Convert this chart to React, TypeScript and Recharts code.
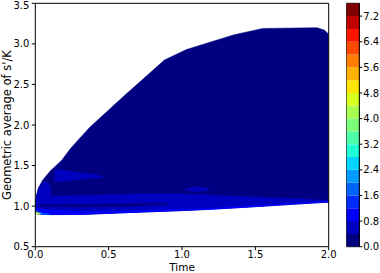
import type { JSX } from "react";
import {
  ComposedChart,
  BarChart,
  Area,
  Bar,
  XAxis,
  YAxis,
  ReferenceLine,
  ReferenceArea,
} from "recharts";

type Band = { t: number; v: [number, number] };

// contour level value range shown on the colour bar
const levelStep = 0.4;
const levelCount = 19;
const colorbarTicks = [0, 0.8, 1.6, 2.4, 3.2, 4.0, 4.8, 5.6, 6.4, 7.2];
const timeTicks = [0, 0.5, 1.0, 1.5, 2.0];
const ratioTicks = [0.5, 1.0, 1.5, 2.0, 2.5, 3.0, 3.5];

// outer envelope of the filled contours (level 0.0 - 0.4)
const envelope: Band[] = [
  { t: 0, v: [0.93, 1.06] },
  { t: 0.01, v: [0.905, 1.15] },
  { t: 0.02, v: [0.9, 1.22] },
  { t: 0.05, v: [0.897, 1.32] },
  { t: 0.1, v: [0.895, 1.43] },
  { t: 0.18, v: [0.895, 1.565] },
  { t: 0.24, v: [0.896, 1.71] },
  { t: 0.37, v: [0.9, 1.97] },
  { t: 0.6, v: [0.918, 2.35] },
  { t: 0.88, v: [0.937, 2.8] },
  { t: 1.03, v: [0.947, 2.93] },
  { t: 1.35, v: [0.978, 3.11] },
  { t: 1.55, v: [1.0, 3.19] },
  { t: 1.92, v: [1.042, 3.2] },
  { t: 1.97, v: [1.046, 3.17] },
  { t: 2.0, v: [1.05, 3.12] },
];

// level 0.4 - 0.8 near the lower edge
const lowerBand: Band[] = [
  { t: 0, v: [0.93, 1.06] },
  { t: 0.02, v: [0.9, 1.1] },
  { t: 0.05, v: [0.897, 1.12] },
  { t: 0.3, v: [0.898, 1.13] },
  { t: 0.7, v: [0.925, 1.15] },
  { t: 1.0, v: [0.945, 1.15] },
  { t: 1.4, v: [0.982, 1.12] },
  { t: 1.8, v: [1.028, 1.09] },
  { t: 2.0, v: [1.05, 1.07] },
];

// thin low-value stripe inside the lower band
const darkStripe: Band[] = [
  { t: 0.01, v: [0.995, 1.015] },
  { t: 0.3, v: [0.99, 1.02] },
  { t: 0.6, v: [0.995, 1.03] },
  { t: 0.9, v: [1.02, 1.04] },
];

// level 0.4 - 0.8 along the left edge
const leftBand: Band[] = [
  { t: 0, v: [1.0, 1.06] },
  { t: 0.01, v: [1.0, 1.14] },
  { t: 0.03, v: [1.02, 1.24] },
  { t: 0.06, v: [1.05, 1.3] },
  { t: 0.09, v: [1.1, 1.28] },
  { t: 0.11, v: [1.17, 1.2] },
];

// level 0.4 - 0.8 patch
const upperPatch: Band[] = [
  { t: 0.13, v: [1.3, 1.45] },
  { t: 0.2, v: [1.31, 1.44] },
  { t: 0.3, v: [1.33, 1.41] },
  { t: 0.4, v: [1.345, 1.39] },
  { t: 0.46, v: [1.36, 1.37] },
];

const midPatch: Band[] = [
  { t: 1.02, v: [1.2, 1.21] },
  { t: 1.1, v: [1.18, 1.24] },
  { t: 1.18, v: [1.2, 1.22] },
];

// level 0.8 - 1.2 rim
const edgeBand: Band[] = [
  { t: 0, v: [0.93, 0.99] },
  { t: 0.05, v: [0.897, 0.96] },
  { t: 0.3, v: [0.898, 0.93] },
  { t: 0.7, v: [0.925, 0.945] },
  { t: 1.2, v: [0.96, 0.975] },
  { t: 1.8, v: [1.028, 1.038] },
  { t: 2.0, v: [1.05, 1.056] },
];

// level 1.6 - 2.0
const cyanBand: Band[] = [
  { t: 0, v: [0.925, 0.95] },
  { t: 0.02, v: [0.9, 0.93] },
  { t: 0.06, v: [0.897, 0.91] },
  { t: 0.1, v: [0.895, 0.9] },
];

// level 4.4 - 4.8
const hotSpot: Band[] = [
  { t: 0.005, v: [0.91, 0.925] },
  { t: 0.02, v: [0.9, 0.915] },
  { t: 0.035, v: [0.899, 0.905] },
];

const jet = (x: number): string => {
  const clamp = (v: number) => Math.max(0, Math.min(1, v));
  let r = 0;
  if (x >= 0.89) r = 1 - (0.5 * (x - 0.89)) / 0.11;
  else if (x >= 0.66) r = 1;
  else if (x >= 0.35) r = (x - 0.35) / 0.31;
  let g = 0;
  if (x >= 0.91) g = 0;
  else if (x >= 0.64) g = 1 - (x - 0.64) / 0.27;
  else if (x >= 0.375) g = 1;
  else if (x >= 0.125) g = (x - 0.125) / 0.25;
  let b = 1;
  if (x < 0.11) b = 0.5 + (0.5 * x) / 0.11;
  else if (x >= 0.65) b = 0;
  else if (x >= 0.34) b = 1 - (x - 0.34) / 0.31;
  const h = (v: number) =>
    Math.round(clamp(v) * 255)
      .toString(16)
      .padStart(2, "0");
  return `#${h(r)}${h(g)}${h(b)}`;
};

const bandColor = (i: number) => jet(i / (levelCount - 1));

const colorbarRow: Record<string, number> = { name: 0 };
for (let i = 0; i < levelCount; i++) colorbarRow[`b${i}`] = levelStep;

const font = { fontFamily: "DejaVu Sans", fontSize: 10, fill: "#000" };
const fmt = (v: number) => v.toFixed(1);

const layers: { data: Band[]; level: number }[] = [
  { data: envelope, level: 0 },
  { data: lowerBand, level: 1 },
  { data: darkStripe, level: 0 },
  { data: leftBand, level: 1 },
  { data: upperPatch, level: 1 },
  { data: midPatch, level: 1 },
  { data: edgeBand, level: 2 },
  { data: cyanBand, level: 4 },
  { data: hotSpot, level: 11 },
];

const App = (): JSX.Element => {
  return (
    <div style={{ position: "absolute", left: 0, top: 0, width: 380, height: 273 }}>
      <div style={{ position: "absolute", left: 0, top: 0 }}>
        <ComposedChart
          width={380}
          height={273}
          margin={{ top: 3.3, right: 51.3, bottom: 0, left: 0 }}
        >
          <XAxis
            type="number"
            dataKey="t"
            domain={[0, 2]}
            ticks={timeTicks}
            tickFormatter={fmt}
            tick={font}
            tickSize={3.5}
            tickMargin={1}
            stroke="#000"
            height={26.3}
            allowDataOverflow
            label={{ value: "Time", position: "insideBottom", offset: 2, style: { ...font, fontSize: 10.5 } }}
          />
          <YAxis
            type="number"
            domain={[0.5, 3.5]}
            ticks={ratioTicks}
            tickFormatter={fmt}
            tick={font}
            tickSize={3.5}
            tickMargin={2.5}
            stroke="#000"
            width={35.3}
            allowDataOverflow
            label={{
              value: "Geometric average of s'/K",
              angle: -90,
              position: "insideLeft",
              offset: 7,
              style: { ...font, fontSize: 11.5, textAnchor: "middle" },
            }}
          />
          {layers.map((l, i) => (
            <Area
              key={i}
              data={l.data}
              dataKey="v"
              type="linear"
              fill={bandColor(l.level)}
              fillOpacity={1}
              stroke={bandColor(l.level)}
              strokeWidth={0.5}
              isAnimationActive={false}
              dot={false}
              activeDot={false}
            />
          ))}
          <ReferenceLine y={3.5} stroke="#000" strokeWidth={1} />
          <ReferenceLine x={2} stroke="#000" strokeWidth={1} />
        </ComposedChart>
      </div>
      <div style={{ position: "absolute", left: 0, top: 0 }}>
        <BarChart
          width={380}
          height={273}
          data={[colorbarRow]}
          margin={{ top: 3.3, right: 0, bottom: 26.3, left: 346.7 }}
          barCategoryGap={0}
        >
          <XAxis dataKey="name" hide />
          <YAxis
            orientation="right"
            type="number"
            domain={[0, levelStep * levelCount]}
            ticks={colorbarTicks}
            tickFormatter={fmt}
            tick={{ ...font, textAnchor: "start" }}
            tickSize={3}
            tickMargin={1}
            stroke="#000"
            width={20.7}
            allowDataOverflow
          />
          {Array.from({ length: levelCount }, (_, i) => (
            <Bar
              key={i}
              dataKey={`b${i}`}
              stackId="cb"
              fill={bandColor(i)}
              isAnimationActive={false}
            />
          ))}
          <ReferenceArea
            y1={0}
            y2={levelStep * levelCount}
            fill="none"
            stroke="#000"
            strokeWidth={1}
            ifOverflow="visible"
          />
        </BarChart>
      </div>
    </div>
  );
};

export default App;
